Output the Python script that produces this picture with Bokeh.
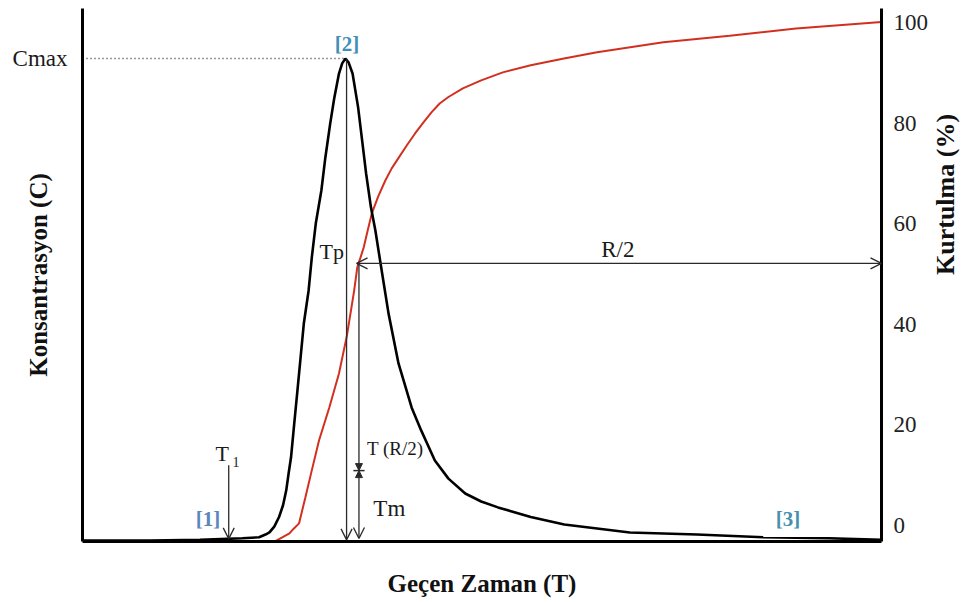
from bokeh.plotting import figure
from bokeh.models import (Range1d, LinearAxis, FixedTicker, Arrow, OpenHead, NormalHead, Label)
from bokeh.embed import file_html
from bokeh.resources import INLINE
import math

# ---- data ----
time_black = [0, 8.5, 14.7, 20.0, 22.1, 22.9, 23.4, 24.0, 24.6, 25.1, 25.5, 25.8, 26.1, 26.5, 26.9,
              27.3, 27.7, 28.3, 28.7, 29.2, 29.9, 30.4, 31.0, 31.5, 32.1, 32.5, 32.9, 33.3, 33.8,
              34.5, 35.0, 35.5, 36.1, 36.65, 37.3, 38.3, 39.55, 41.2, 42.4, 44.1,
              45.8, 47.9, 49.9, 52.0, 56.1, 60.3, 68.5, 76.9, 85.2, 93.4, 100]
concentration = [0.2, 0.2, 0.3, 0.6, 0.8, 1.3, 1.7, 2.8, 4.6, 6.8, 9.6, 12.8, 15.8, 22.1, 28.3,
                 34.6, 40.9, 47.1, 53.3, 59.7, 65.9, 72.1, 78.4, 83.1, 87.8, 89.7, 90.6, 89.9, 87.8,
                 81.4, 75.2, 69.0, 62.7, 58.4, 52.2, 42.8, 33.4, 25.1, 20.8, 15.2,
                 11.8, 9.0, 7.5, 6.4, 4.6, 3.2, 1.7, 1.3, 0.8, 0.6, 0.3]
time_red = [24.2, 25.0, 25.9, 26.4, 27.1, 27.9, 28.6, 29.6, 30.9, 32.1, 33.1, 34.0, 34.4, 34.8,
            35.2, 35.7, 36.2, 37.0, 37.9, 38.7, 39.6, 40.6, 41.6, 42.7, 43.7, 44.7, 45.8, 47.6,
            49.9, 52.6, 56.1, 60.1, 64.4, 72.7, 81.0, 89.3, 100]
recovery = [-3.1, -2.4, -1.6, -0.7, 0.4, 5.6, 10.3, 16.9, 23.5, 30.2, 37.8, 46.7, 51.4, 53.3,
            55.3, 58.7, 62.0, 65.4, 68.6, 71.0, 73.2, 75.6, 77.9, 80.2, 82.2, 83.9, 85.2, 86.9,
            88.5, 90.1, 91.5, 92.8, 94.1, 96.1, 97.4, 98.8, 100.1]
recovery_ticks = [0, 20, 40, 60, 80, 100]

T1 = 18.3          # first arrival time
T_R2 = 34.6        # time of half recovery
R2_level = 52.1    # recovery level of the R/2 arrow
Tm_split = 10.9    # split between T(R/2) and Tm markers
T1_top = 14.3

i_max = concentration.index(max(concentration))
Cmax = concentration[i_max]
Tp = time_black[i_max]

FONT = "Liberation Serif"
PCT_START, PCT_END = -3.2, 102.8

p = figure(width=977, height=603, x_range=Range1d(0, 100), y_range=Range1d(0, 100),
           output_backend="svg", toolbar_location=None,
           min_border_left=82, min_border_right=91, min_border_top=8, min_border_bottom=62)
p.extra_y_ranges = {"pct": Range1d(PCT_START, PCT_END)}
p.outline_line_color = None
p.xgrid.visible = False
p.ygrid.visible = False
p.background_fill_color = "white"

for ax in (p.xaxis[0], p.yaxis[0]):
    ax.ticker = FixedTicker(ticks=[])
    ax.major_tick_line_color = None
    ax.minor_tick_line_color = None
    ax.major_tick_out = 0
    ax.minor_tick_out = 0
    ax.major_label_standoff = 0
    ax.axis_line_width = 3
    ax.axis_line_color = "black"
    ax.axis_label_text_font = FONT
    ax.axis_label_text_font_style = "bold"
    ax.axis_label_text_font_size = "25px"
    ax.axis_label_text_color = "#111111"
p.xaxis[0].axis_label = "Geçen Zaman (T)"
p.xaxis[0].axis_label_standoff = 28

# left axis: one labelled tick at Cmax, axis title pulled back over the tick-label zone
yax = p.yaxis[0]
yax.ticker = FixedTicker(ticks=[Cmax])
yax.major_label_overrides = {Cmax: "Cmax"}
yax.major_label_standoff = 15
yax.major_label_text_font = FONT
yax.major_label_text_font_size = "23px"
yax.major_label_text_color = "#1a1a1a"
yax.axis_label = "Konsantrasyon (C)"
yax.axis_label_standoff = -42

rax = LinearAxis(y_range_name="pct", ticker=FixedTicker(ticks=recovery_ticks),
                 axis_label="Kurtulma (%)")
rax.major_tick_line_color = None
rax.minor_tick_line_color = None
rax.major_tick_out = 0
rax.minor_tick_out = 0
rax.axis_line_width = 3
rax.major_label_standoff = 12
rax.major_label_text_font = FONT
rax.major_label_text_font_size = "23px"
rax.major_label_text_color = "#222222"
rax.axis_label_text_font = FONT
rax.axis_label_text_font_style = "bold"
rax.axis_label_text_font_size = "26px"
rax.axis_label_text_color = "#111111"
rax.axis_label_standoff = 14
rax.axis_label_orientation = math.pi / 2
p.add_layout(rax, "right")

# curves
p.line(time_red, recovery, y_range_name="pct", line_color="#d2301f", line_width=2)
p.line(time_black, concentration, line_color="black", line_width=2.6)

# Cmax dotted guide
p.segment(x0=[0], y0=[Cmax], x1=[Tp], y1=[Cmax], line_dash="1 3", line_color="#333333", line_width=1.5)

LC = "#2a2a2a"
LW = 1.3
p.add_layout(Arrow(x_start=Tp + 0.15, y_start=Cmax, x_end=Tp + 0.15, y_end=0.3, line_color=LC, line_width=LW,
                   end=OpenHead(size=11, line_color=LC, line_width=LW)))
p.add_layout(Arrow(x_start=T1, y_start=T1_top, x_end=T1, y_end=0.5, line_color=LC, line_width=LW,
                   end=OpenHead(size=11, line_color=LC, line_width=LW)))
p.add_layout(Arrow(x_start=T_R2 - 0.3, y_start=R2_level, x_end=100, y_end=R2_level, y_range_name="pct",
                   line_color=LC, line_width=LW,
                   start=OpenHead(size=11, line_color=LC, line_width=LW),
                   end=OpenHead(size=11, line_color=LC, line_width=LW)))
p.add_layout(Arrow(x_start=T_R2, y_start=R2_level, x_end=T_R2, y_end=Tm_split, y_range_name="pct",
                   line_color=LC, line_width=LW,
                   end=NormalHead(size=7, line_color=LC, fill_color=LC, line_width=1)))
p.add_layout(Arrow(x_start=T_R2, y_start=Tm_split, x_end=T_R2, y_end=PCT_START + 0.6, y_range_name="pct",
                   line_color=LC, line_width=LW,
                   start=NormalHead(size=7, line_color=LC, fill_color=LC, line_width=1),
                   end=OpenHead(size=11, line_color=LC, line_width=LW)))
p.segment(x0=[T_R2 - 0.7], y0=[Tm_split], x1=[T_R2 + 0.7], y1=[Tm_split], y_range_name="pct",
          line_color=LC, line_width=1.5)

def lab(text, x, y, size, align="center", color="#1a1a1a", bold=False, yr="default"):
    l = Label(x=x, y=y, text=text, text_font=FONT, text_font_size=size, text_color=color,
              text_align=align, text_baseline="middle",
              text_font_style="bold" if bold else "normal")
    if yr != "default":
        l.y_range_name = yr
    p.add_layout(l)

lab("[1]", 15.7, 4.3, "21px", color="#5a86bd", bold=True)
lab("[2]", 33.1, 93.4, "21px", color="#3f8fb6", bold=True)
lab("[3]", 88.3, 4.3, "21px", color="#4591ad", bold=True)
lab("Tp", 31.2, 54.4, "22px")
lab("R/2", 67.0, 54.9, "23px", yr="pct")
lab("T (R/2)", 35.6, 17.4, "19px", align="left")
lab("Tm", 36.4, 6.2, "23px", align="left")
lab("T", 17.5, 16.5, "22px")
lab("1", 19.2, 14.9, "14px")

open("out.html", "w").write(file_html(p, INLINE))
